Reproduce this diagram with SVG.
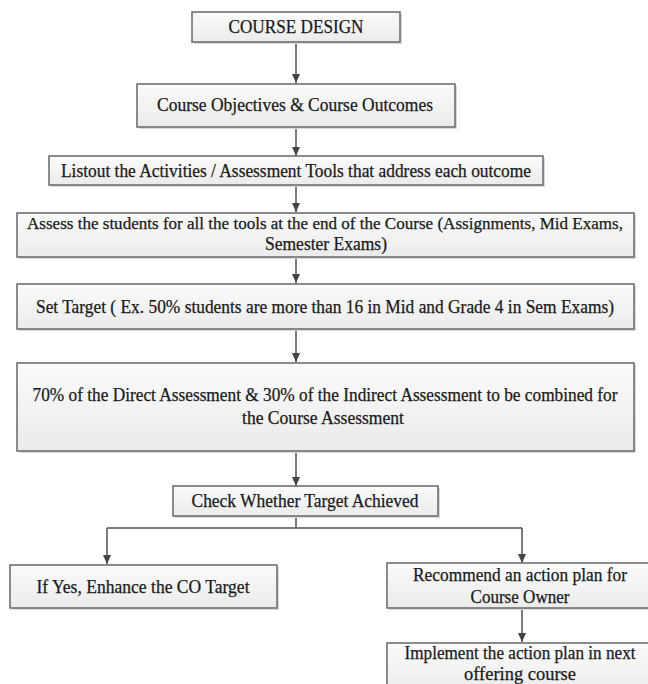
<svg xmlns="http://www.w3.org/2000/svg" width="648" height="684" viewBox="0 0 648 684">
<defs>
<linearGradient id="g" x1="0" y1="0" x2="0" y2="1">
<stop offset="0" stop-color="#fbfbfb"/>
<stop offset="1" stop-color="#ebebeb"/>
</linearGradient>
<marker id="ah" markerWidth="10" markerHeight="10" refX="9" refY="5" orient="auto" markerUnits="userSpaceOnUse">
<path d="M0,1 L9,5 L0,9 z" fill="#444"/>
</marker>
<style>
.box{fill:url(#g);stroke:#707070;stroke-width:1.6}
.sh{fill:#d9d9d9}
.t{font-family:"Liberation Serif","Times New Roman",serif;font-size:18px;fill:#1a1a1a;stroke:#1a1a1a;stroke-width:0.25;text-anchor:middle}
.s{font-size:16.5px}
.c{fill:none;stroke:#505050;stroke-width:1.5}
.ca{fill:none;stroke:#505050;stroke-width:1.5;marker-end:url(#ah)}
</style>
</defs>
<rect width="648" height="684" fill="#fff"/>
<g id="connectors">
<line class="ca" x1="296" y1="42" x2="296" y2="83"/>
<line class="ca" x1="296" y1="127" x2="296" y2="156"/>
<line class="ca" x1="296" y1="185" x2="296" y2="212"/>
<line class="ca" x1="296" y1="257" x2="296" y2="283"/>
<line class="ca" x1="296" y1="329" x2="296" y2="362"/>
<line class="ca" x1="296" y1="451" x2="296" y2="486"/>
<polyline class="c" points="296,516 296,528"/>
<polyline class="c" points="107,528 522,528"/>
<line class="ca" x1="107" y1="528" x2="107" y2="564"/>
<line class="ca" x1="522" y1="528" x2="522" y2="563"/>
<line class="ca" x1="522" y1="608" x2="522" y2="642"/>
</g>
<g id="n1">
<rect class="sh" x="194" y="14" width="208" height="30"/>
<rect class="box" x="192" y="12" width="208" height="30"/>
<text class="t" x="296" y="33" textLength="135" lengthAdjust="spacingAndGlyphs">COURSE DESIGN</text>
</g>
<g id="n2">
<rect class="sh" x="139" y="86" width="318" height="43"/>
<rect class="box" x="137" y="84" width="318" height="43"/>
<text class="t" x="295" y="111" textLength="276" lengthAdjust="spacingAndGlyphs">Course Objectives &amp;  Course Outcomes</text>
</g>
<g id="n3">
<rect class="sh" x="51" y="158" width="494" height="29"/>
<rect class="box" x="49" y="156" width="494" height="29"/>
<text class="t" x="296" y="177" textLength="470" lengthAdjust="spacingAndGlyphs">Listout the Activities / Assessment Tools that address each outcome</text>
</g>
<g id="n4">
<rect class="sh" x="19" y="215" width="617" height="44"/>
<rect class="box" x="17" y="213" width="617" height="44"/>
<text class="t s" x="325" y="229" textLength="596" lengthAdjust="spacingAndGlyphs">Assess the students for all the tools at the end of the Course (Assignments, Mid Exams,</text>
<text class="t" x="326" y="250" textLength="122" lengthAdjust="spacingAndGlyphs">Semester Exams)</text>
</g>
<g id="n5">
<rect class="sh" x="19" y="286" width="617" height="45"/>
<rect class="box" x="17" y="284" width="617" height="45"/>
<text class="t" x="325" y="313" textLength="578" lengthAdjust="spacingAndGlyphs">Set Target ( Ex. 50% students are more than 16 in Mid and Grade 4 in Sem Exams)</text>
</g>
<g id="n6">
<rect class="sh" x="19" y="365" width="617" height="88"/>
<rect class="box" x="17" y="363" width="617" height="88"/>
<text class="t" x="325" y="401" textLength="585" lengthAdjust="spacingAndGlyphs">70% of the Direct Assessment &amp; 30% of the Indirect Assessment to be combined for</text>
<text class="t" x="323" y="424" textLength="162" lengthAdjust="spacingAndGlyphs">the Course Assessment</text>
</g>
<g id="n7">
<rect class="sh" x="175" y="488" width="265" height="30"/>
<rect class="box" x="173" y="486" width="265" height="30"/>
<text class="t" x="305" y="507" textLength="227" lengthAdjust="spacingAndGlyphs">Check Whether Target Achieved</text>
</g>
<g id="n8">
<rect class="sh" x="12" y="567" width="267" height="43"/>
<rect class="box" x="10" y="565" width="267" height="43"/>
<text class="t" x="143" y="593" textLength="213" lengthAdjust="spacingAndGlyphs">If Yes, Enhance the CO Target</text>
</g>
<g id="n9">
<rect class="sh" x="389" y="565" width="263" height="45"/>
<rect class="box" x="387" y="563" width="263" height="45"/>
<text class="t" x="520" y="581" textLength="214" lengthAdjust="spacingAndGlyphs">Recommend an action plan for</text>
<text class="t" x="520" y="603" textLength="99" lengthAdjust="spacingAndGlyphs">Course Owner</text>
</g>
<g id="n10">
<rect class="sh" x="389" y="645" width="263" height="50"/>
<rect class="box" x="387" y="643" width="263" height="50"/>
<text class="t" x="520" y="659" textLength="231" lengthAdjust="spacingAndGlyphs">Implement the action plan in next</text>
<text class="t" x="520" y="680" textLength="112" lengthAdjust="spacingAndGlyphs">offering course</text>
</g>
</svg>
